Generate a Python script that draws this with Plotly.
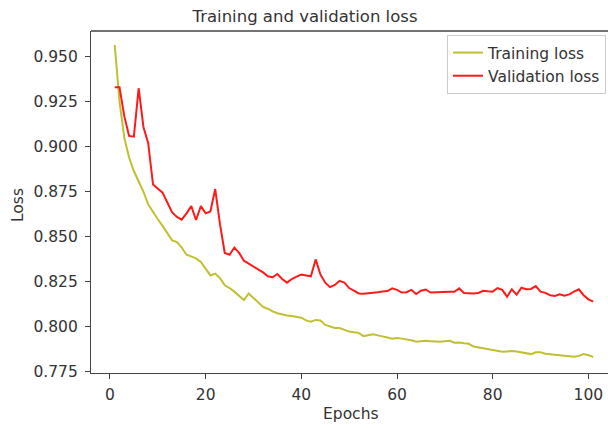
import plotly.graph_objects as go

# Per-epoch loss values
epochs = list(range(1, 102))

training_loss = [
    0.9565, 0.925, 0.905, 0.894, 0.8865, 0.881, 0.875, 0.868, 0.8635, 0.8597,
    0.856, 0.852, 0.848, 0.847, 0.844, 0.840, 0.839, 0.838, 0.836, 0.832,
    0.8285, 0.8295, 0.827, 0.823, 0.8215, 0.8195, 0.817, 0.8148, 0.8185, 0.816,
    0.813, 0.811, 0.810, 0.8085, 0.8075, 0.8068, 0.8063, 0.806, 0.8056, 0.805,
    0.8035, 0.8028, 0.8038, 0.8035, 0.801, 0.800, 0.7993, 0.7993, 0.7985, 0.7973,
    0.797, 0.7966, 0.7948, 0.7955, 0.7958, 0.7952, 0.7948, 0.794, 0.7933, 0.7938,
    0.7934, 0.793, 0.7925, 0.7917, 0.792, 0.7922, 0.792, 0.7918, 0.7917, 0.792,
    0.7922, 0.7911, 0.7912, 0.7908, 0.7905, 0.789, 0.7885, 0.788, 0.7878, 0.7872,
    0.7866, 0.7861, 0.7863, 0.7865, 0.7862, 0.7857, 0.7852, 0.7848, 0.7858, 0.7858,
    0.785, 0.7847, 0.7845, 0.7842, 0.784, 0.7837, 0.7834, 0.7838, 0.7848, 0.7842,
    0.7832,
]

validation_loss = [
    0.933, 0.933, 0.917, 0.906, 0.9056, 0.9325, 0.911, 0.902, 0.879, 0.877,
    0.8745, 0.869, 0.8635, 0.861, 0.8595, 0.863, 0.867, 0.8593, 0.867, 0.863,
    0.864, 0.8765, 0.857, 0.841, 0.840, 0.844, 0.841, 0.8367, 0.835, 0.8337,
    0.832, 0.8302, 0.828, 0.8275, 0.8293, 0.8265, 0.8245, 0.8265, 0.8278, 0.829,
    0.8285, 0.828, 0.8374, 0.829, 0.8245, 0.822, 0.8232, 0.8255, 0.8245, 0.8215,
    0.820, 0.8185, 0.8183, 0.8185, 0.8187, 0.8192, 0.8196, 0.8198, 0.8213, 0.8205,
    0.819, 0.8192, 0.8205, 0.8182, 0.820, 0.8207, 0.819, 0.8192, 0.8194, 0.8194,
    0.8194, 0.8194, 0.8213, 0.8188, 0.8185, 0.8185, 0.8188, 0.820, 0.8197, 0.8195,
    0.8215, 0.8205, 0.8167, 0.8208, 0.8178, 0.8217, 0.8208, 0.821, 0.8226, 0.8195,
    0.8188, 0.8175, 0.8171, 0.818, 0.8172, 0.818, 0.8195, 0.8208, 0.8175, 0.8152,
    0.8139,
]

x_ticks = [0, 20, 40, 60, 80, 100]
y_ticks = [0.775, 0.800, 0.825, 0.850, 0.875, 0.900, 0.925, 0.950]

W, H = 608, 428
ML, MT, MB = 91, 31, 55
PW, PH = W - ML, H - MT - MB
FONT = "DejaVu Sans"
TEXT = "#333333"
AXIS = "#444444"


def px_x(px):
    """Pixel column -> paper x (plot-area relative)."""
    return (px - ML) / PW


def px_y(py):
    """Pixel row -> paper y (plot-area relative)."""
    return (H - MB - py) / PH


fig = go.Figure()
fig.add_trace(go.Scatter(
    x=epochs, y=training_loss, mode="lines", name="Training loss",
    line=dict(color="#c0c030", width=2),
))
fig.add_trace(go.Scatter(
    x=epochs, y=validation_loss, mode="lines", name="Validation loss",
    line=dict(color="#ff1a1a", width=2),
))

fig.update_layout(
    width=W, height=H,
    margin=dict(l=ML, r=0, t=MT, b=MB),
    paper_bgcolor="white", plot_bgcolor="white",
    font=dict(family=FONT, size=15.5, color=TEXT),
    title=dict(
        text="Training and validation loss",
        x=305 / W, xanchor="center", xref="container",
        y=1 - 16 / H, yanchor="middle", yref="container",
        font=dict(family=FONT, size=16.5, color=TEXT),
    ),
    showlegend=True,
    legend=dict(
        x=px_x(606), xanchor="right", y=px_y(35), yanchor="top",
        bgcolor="white", bordercolor="#cccccc", borderwidth=1,
        font=dict(family=FONT, size=15.5, color=TEXT),
        itemwidth=30,
    ),
    xaxis=dict(
        range=[-3.96, 104.1], tickvals=x_ticks, ticktext=[str(v) for v in x_ticks],
        showgrid=False, zeroline=False,
        showline=True, linecolor=AXIS, linewidth=1.3,
        ticks="outside", ticklen=5, tickcolor=AXIS, tickwidth=1.2,
        ticklabelstandoff=2,
    ),
    yaxis=dict(
        range=[0.7743, 0.9643], tickvals=y_ticks, ticktext=[f"{v:.3f}" for v in y_ticks],
        showgrid=False, zeroline=False,
        showline=True, linecolor=AXIS, linewidth=1.3,
        ticks="outside", ticklen=5, tickcolor=AXIS, tickwidth=1.2,
        ticklabelstandoff=4,
    ),
    shapes=[
        # top spine
        dict(type="line", xref="paper", yref="paper", x0=0, x1=1, y0=1, y1=1,
             line=dict(color=AXIS, width=1.3), layer="above"),
    ],
    annotations=[
        dict(text="Epochs", x=px_x(350.5), y=px_y(414), xref="paper", yref="paper",
             xanchor="center", yanchor="middle", showarrow=False,
             font=dict(family=FONT, size=15.5, color=TEXT)),
        dict(text="Loss", x=px_x(18), y=px_y(205), xref="paper", yref="paper",
             xanchor="center", yanchor="middle", showarrow=False, textangle=-90,
             font=dict(family=FONT, size=15.5, color=TEXT)),
    ],
)

fig.write_html("out.html")
